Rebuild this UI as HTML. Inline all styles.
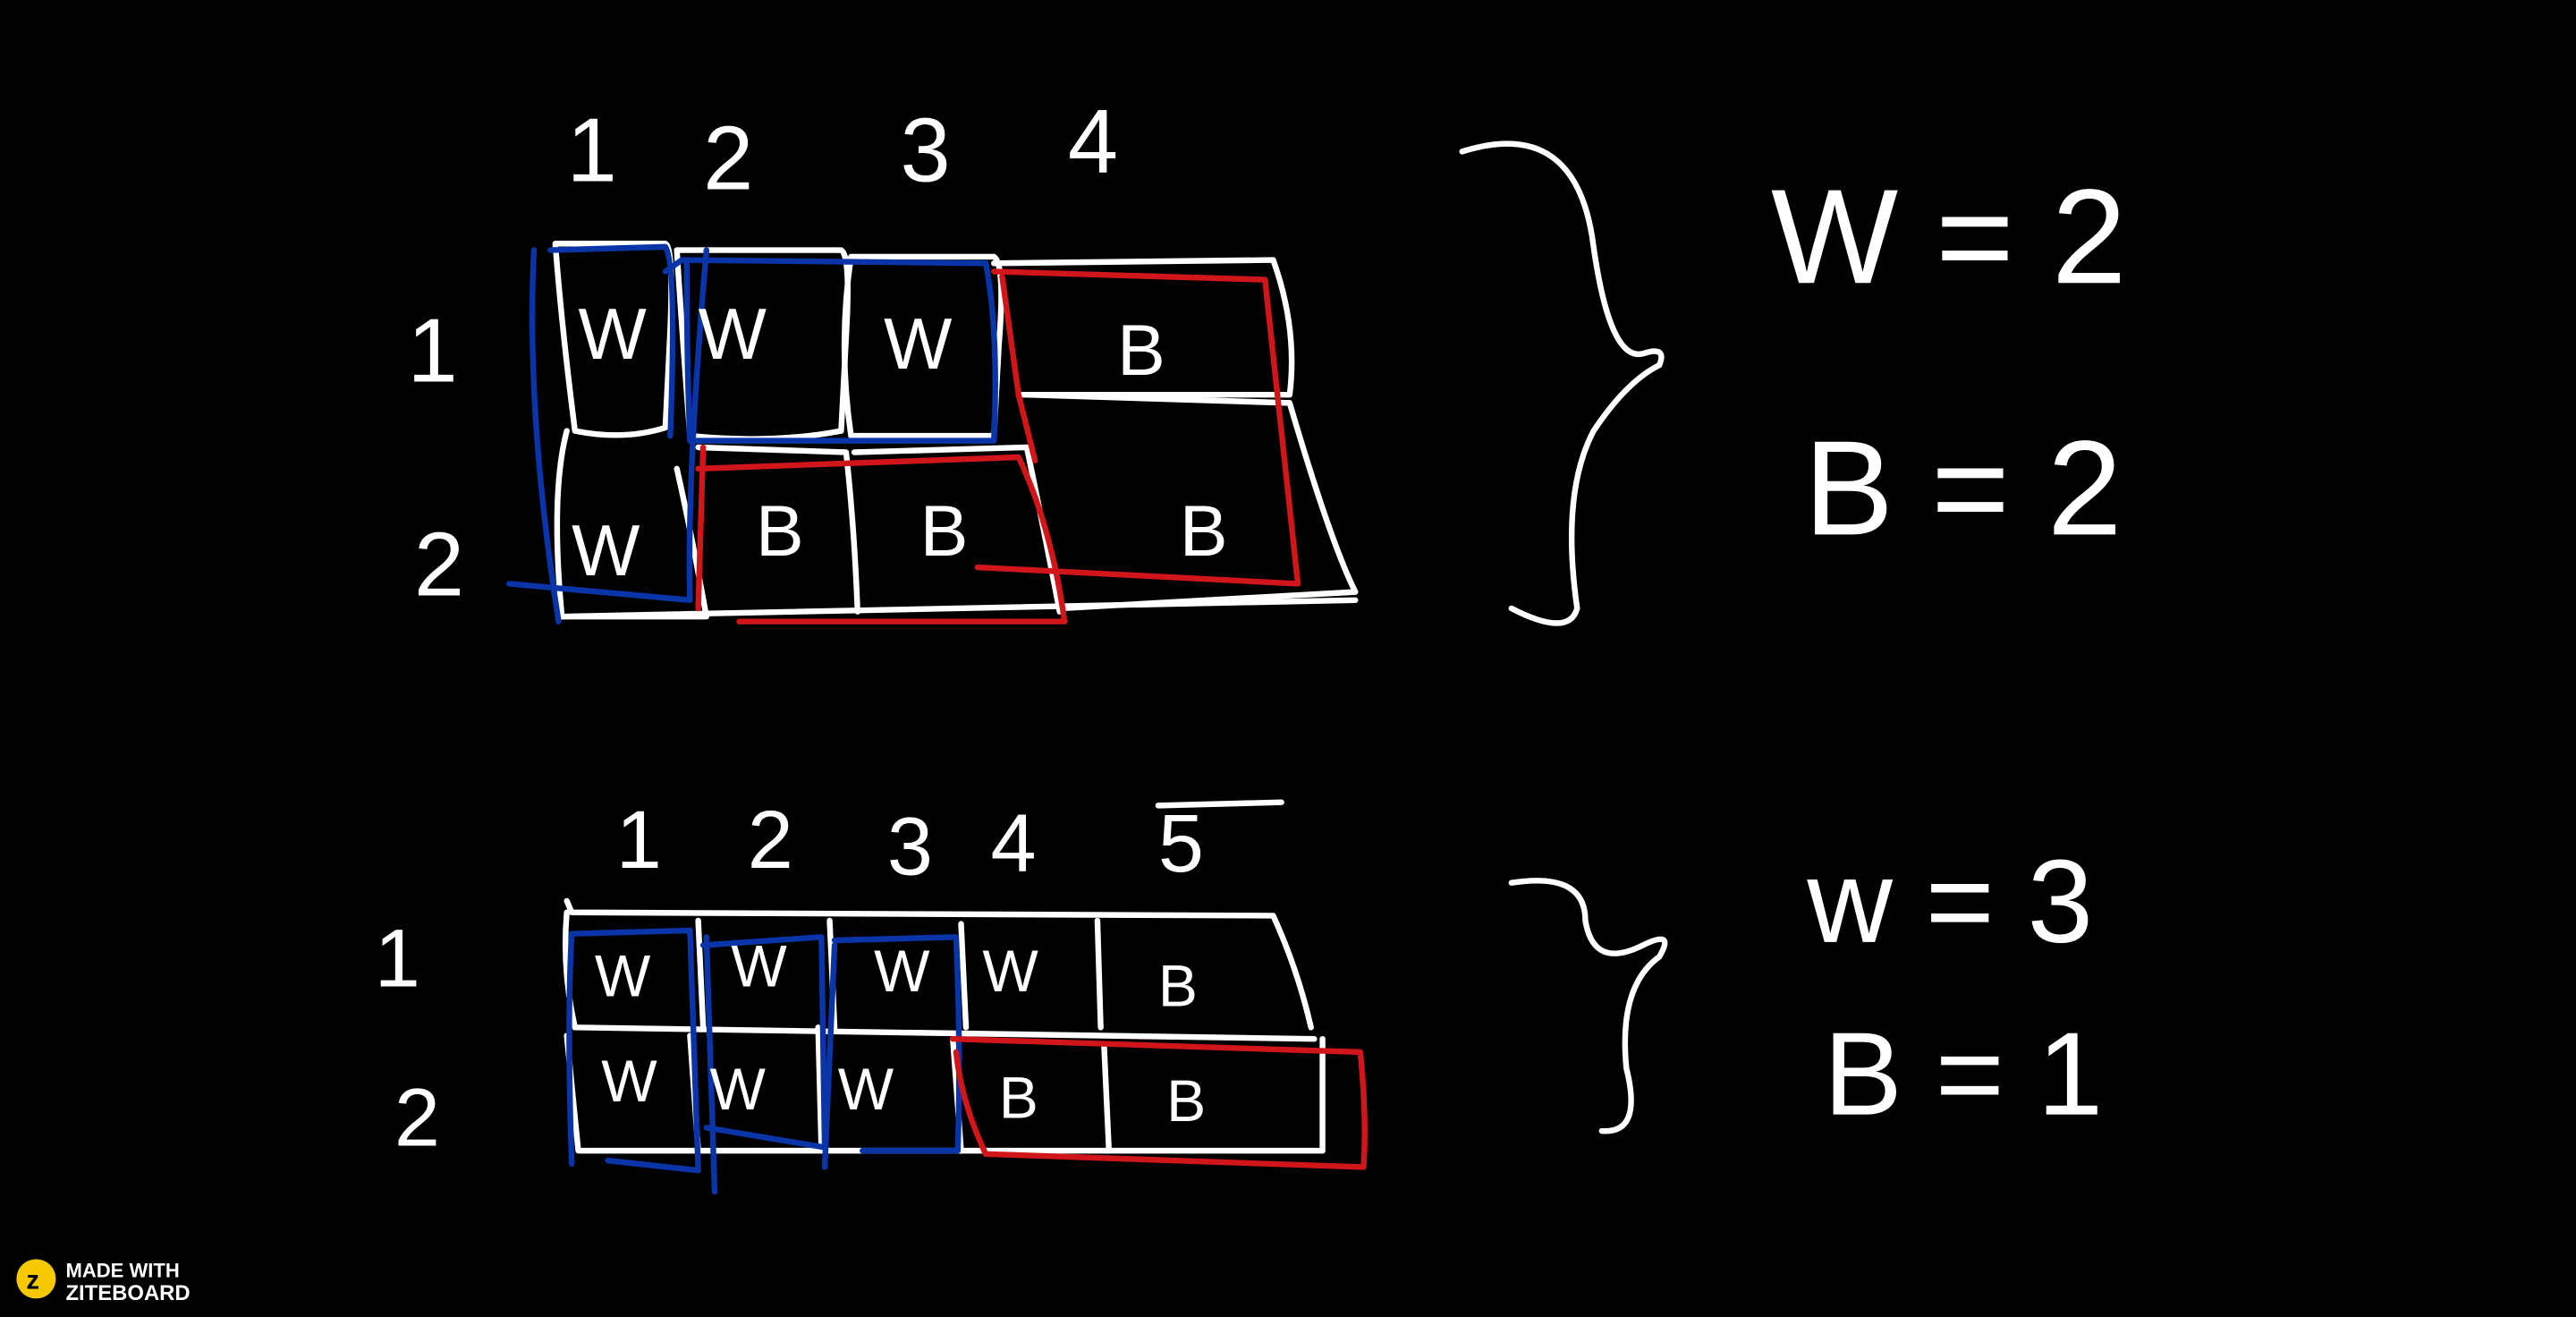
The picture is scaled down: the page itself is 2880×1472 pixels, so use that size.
<!DOCTYPE html>
<html><head><meta charset="utf-8"><style>
html,body{margin:0;padding:0;background:#000;width:2880px;height:1472px;overflow:hidden}
svg{display:block}
text{font-family:"Liberation Sans",sans-serif;fill:#fff}
</style></head><body>
<svg width="2880" height="1472" viewBox="0 0 1568 801" xmlns="http://www.w3.org/2000/svg">
<rect width="1568" height="801" fill="#000"/>
<g fill="none" stroke="#fff" stroke-width="3.5" stroke-linecap="round" stroke-linejoin="round">
<path d="M338 148 L405 148 Q410 150 408 200 L405 260 Q380 268 350 262 Q342 200 338 148"/>
<path d="M412 152 L512 152 Q518 155 515 205 L512 262 Q470 270 420 265 Q415 200 412 152"/>
<path d="M518 156 L605 156 Q612 160 608 210 L605 265 L518 265 Q510 210 518 156"/>
<path d="M605 160 L775 158 Q790 200 785 240 L620 240"/>
<path d="M345 262 Q335 300 342 375 L430 375 Q420 320 412 285"/>
<path d="M425 272 L515 275 Q520 320 522 372"/>
<path d="M520 275 L625 272 Q635 320 645 372"/>
<path d="M625 240 L785 245 Q810 330 825 360 L645 370"/>
<path d="M340 375 L825 365"/>
</g>
<g fill="none" stroke="#0a35a8" stroke-width="3.5" stroke-linecap="round" stroke-linejoin="round">
<path d="M325 152 Q320 250 340 378"/>
<path d="M335 152 L405 150 Q412 160 408 265"/>
<path d="M310 355 L420 365 Q418 290 430 152"/>
<path d="M405 165 L415 158 L600 160 Q608 200 605 268 L420 268 Q418 220 418 160"/>
</g>
<g fill="none" stroke="#d0161a" stroke-width="3.5" stroke-linecap="round" stroke-linejoin="round">
<path d="M605 165 L770 170 L790 355 L595 345"/>
<path d="M610 168 L620 240 L630 280"/>
<path d="M425 285 L620 278 Q640 320 648 378 L450 378"/>
<path d="M428 272 L425 370"/>
</g>
<g font-size="55">
<text x="345" y="110">1</text><text x="428" y="115">2</text><text x="548" y="110">3</text><text x="650" y="105">4</text>
<text x="248" y="232">1</text><text x="252" y="362">2</text>
</g>
<g font-size="44">
<text x="352" y="218">W</text><text x="425" y="218">W</text><text x="538" y="224">W</text><text x="680" y="228">B</text>
<text x="348" y="350">W</text><text x="460" y="338">B</text><text x="560" y="338">B</text><text x="718" y="338">B</text>
</g>
<path d="M890 92 Q960 70 970 150 Q980 220 1000 215 Q1015 210 1010 222 Q990 232 970 262 Q950 300 960 370 Q955 388 920 370" fill="none" stroke="#fff" stroke-width="3.5" stroke-linecap="round"/>
<g font-size="82">
<text x="1078" y="172">W = 2</text><text x="1098" y="325">B = 2</text>
</g>
<g fill="none" stroke="#fff" stroke-width="3.5" stroke-linecap="round" stroke-linejoin="round">
<path d="M345 548 L348 555 L775 557 Q790 590 798 625"/>
<path d="M345 555 Q342 590 350 625 L800 632"/>
<path d="M425 560 L428 625"/><path d="M505 560 L508 625"/><path d="M585 562 L588 625"/><path d="M668 560 L670 625"/>
<path d="M345 630 Q348 660 352 700 L805 700"/>
<path d="M420 630 L425 700"/><path d="M498 625 L500 700"/><path d="M580 632 L585 700"/><path d="M672 635 L675 700"/><path d="M805 632 L805 700"/>
</g>
<g fill="none" stroke="#0a35a8" stroke-width="3.5" stroke-linecap="round" stroke-linejoin="round">
<path d="M348 708 Q345 620 348 568 L420 566 L425 712 L370 706"/>
<path d="M428 575 L500 570 L502 698 L430 686 M430 570 L435 725"/>
<path d="M508 572 L582 570 Q585 640 583 700 L525 700 M508 575 L502 710"/>
</g>
<path d="M580 632 L828 640 Q832 680 830 710 L600 702 Q585 670 582 640" fill="none" stroke="#d0161a" stroke-width="3.5" stroke-linecap="round" stroke-linejoin="round"/>
<g font-size="50">
<text x="375" y="528">1</text><text x="455" y="528">2</text><text x="540" y="532">3</text><text x="603" y="530">4</text><text x="705" y="530">5</text>
<text x="228" y="600">1</text><text x="240" y="697">2</text>
</g>
<path d="M705 490 L780 488" stroke="#fff" stroke-width="3.5" fill="none" stroke-linecap="round"/>
<g font-size="36">
<text x="362" y="606">W</text><text x="445" y="600">W</text><text x="532" y="603">W</text><text x="598" y="603">W</text><text x="705" y="612">B</text>
<text x="366" y="670">W</text><text x="432" y="675">W</text><text x="510" y="675">W</text><text x="608" y="680">B</text><text x="710" y="682">B</text>
</g>
<path d="M920 537 Q965 530 965 560 Q970 590 1000 575 Q1020 565 1010 582 Q985 600 990 650 Q1000 690 975 688" fill="none" stroke="#fff" stroke-width="3.5" stroke-linecap="round"/>
<g font-size="72">
<text x="1100" y="573">w = 3</text><text x="1110" y="678">B = 1</text>
</g>
<g>
<circle cx="22" cy="778" r="12" fill="#f5c800"/>
<text x="16" y="784" font-size="16" font-weight="bold" style="fill:#000">z</text>
<text x="40" y="777" font-size="12" font-weight="bold">MADE WITH</text>
<text x="40" y="791" font-size="13" font-weight="bold">ZITEBOARD</text>
</g>
</svg>
</body></html>
